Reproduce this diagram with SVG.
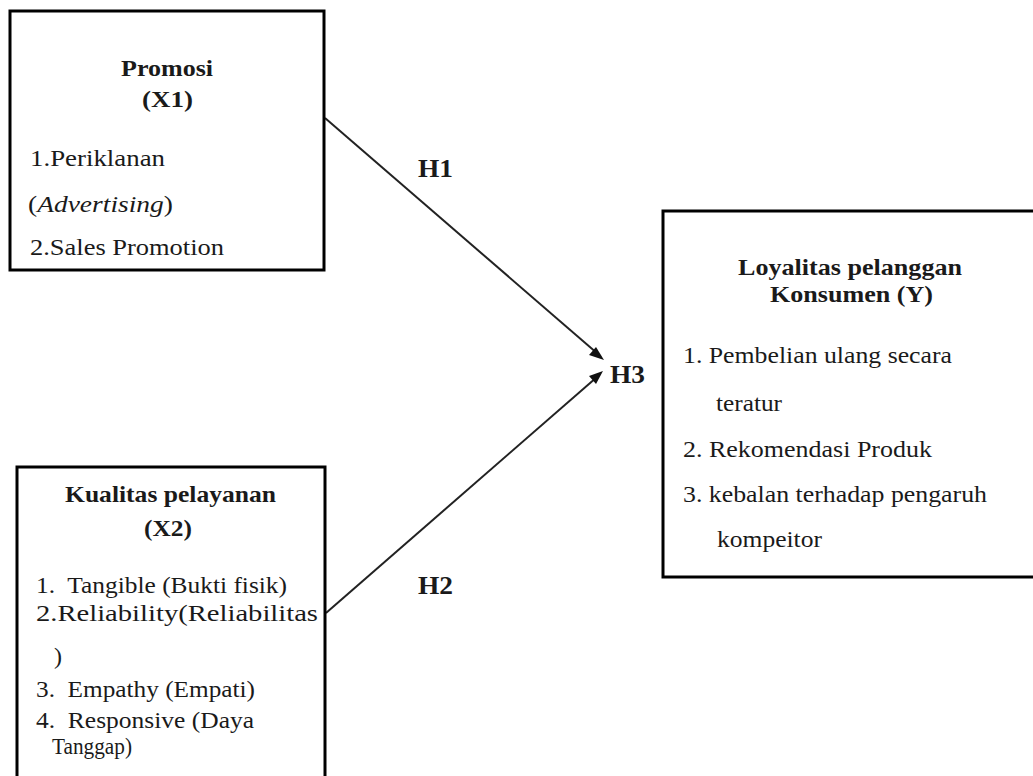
<svg xmlns="http://www.w3.org/2000/svg" width="1033" height="776" viewBox="0 0 1033 776">
<defs>
<style>
.box{fill:#fff;stroke:#000;stroke-width:3}
.t{font-family:"Liberation Serif","Times New Roman",serif;font-size:24px;fill:#1a1a1a}
.b{font-weight:bold;font-size:24px}
.h{font-family:"Liberation Serif","Times New Roman",serif;font-size:26px;font-weight:bold;fill:#1a1a1a}
.c{stroke:#222;stroke-width:2;fill:none}
.ah{fill:#111}
</style>
</defs>
<rect width="1033" height="776" fill="#fff"/>
<g id="connectors">
<line class="c" x1="325" y1="118" x2="598" y2="354"/>
<line class="c" x1="326" y1="613" x2="597" y2="377"/>
<path class="ah" d="M604,360 L589,355 L596,347 z"/>
<path class="ah" d="M603,371 L596,384 L589,376 z"/>
<text class="h" x="418" y="177" textLength="35" lengthAdjust="spacingAndGlyphs">H1</text>
<text class="h" x="418" y="594" textLength="35" lengthAdjust="spacingAndGlyphs">H2</text>
<text class="h" x="610" y="383" textLength="35" lengthAdjust="spacingAndGlyphs">H3</text>
</g>
<g id="node-x1">
<rect class="box" x="10" y="11" width="314" height="259"/>
<text class="t b" x="121" y="76" textLength="92" lengthAdjust="spacingAndGlyphs">Promosi</text>
<text class="t b" x="142" y="107" textLength="51" lengthAdjust="spacingAndGlyphs">(X1)</text>
<text class="t" x="30" y="166" textLength="135" lengthAdjust="spacingAndGlyphs">1.Periklanan</text>
<text class="t" x="28" y="212" textLength="145" lengthAdjust="spacingAndGlyphs">(<tspan font-style="italic">Advertising</tspan>)</text>
<text class="t" x="30" y="255" textLength="194" lengthAdjust="spacingAndGlyphs">2.Sales Promotion</text>
</g>
<g id="node-x2">
<rect class="box" x="17" y="467" width="308" height="330"/>
<text class="t b" x="65" y="502" textLength="211" lengthAdjust="spacingAndGlyphs">Kualitas pelayanan</text>
<text class="t b" x="144" y="536" textLength="48" lengthAdjust="spacingAndGlyphs">(X2)</text>
<text class="t" x="36" y="593" textLength="251" lengthAdjust="spacingAndGlyphs" xml:space="preserve">1.  Tangible (Bukti fisik)</text>
<text class="t" x="36" y="621" textLength="282" lengthAdjust="spacingAndGlyphs">2.Reliability(Reliabilitas</text>
<text class="t" x="54" y="664">)</text>
<text class="t" x="36" y="697" textLength="219" lengthAdjust="spacingAndGlyphs" xml:space="preserve">3.  Empathy (Empati)</text>
<text class="t" x="36" y="728" textLength="218" lengthAdjust="spacingAndGlyphs" xml:space="preserve">4.  Responsive (Daya</text>
<text class="t" x="52" y="754" textLength="80" lengthAdjust="spacingAndGlyphs">Tanggap)</text>
</g>
<g id="node-y">
<rect class="box" x="663" y="211" width="390" height="366"/>
<text class="t b" x="738" y="275" textLength="224" lengthAdjust="spacingAndGlyphs">Loyalitas pelanggan</text>
<text class="t b" x="770" y="302" textLength="163" lengthAdjust="spacingAndGlyphs">Konsumen (Y)</text>
<text class="t" x="683" y="363" textLength="269" lengthAdjust="spacingAndGlyphs">1. Pembelian ulang secara</text>
<text class="t" x="716" y="411" textLength="66" lengthAdjust="spacingAndGlyphs">teratur</text>
<text class="t" x="683" y="457" textLength="249" lengthAdjust="spacingAndGlyphs">2. Rekomendasi Produk</text>
<text class="t" x="683" y="502" textLength="304" lengthAdjust="spacingAndGlyphs">3. kebalan terhadap pengaruh</text>
<text class="t" x="717" y="547" textLength="105" lengthAdjust="spacingAndGlyphs">kompeitor</text>
</g>
</svg>
